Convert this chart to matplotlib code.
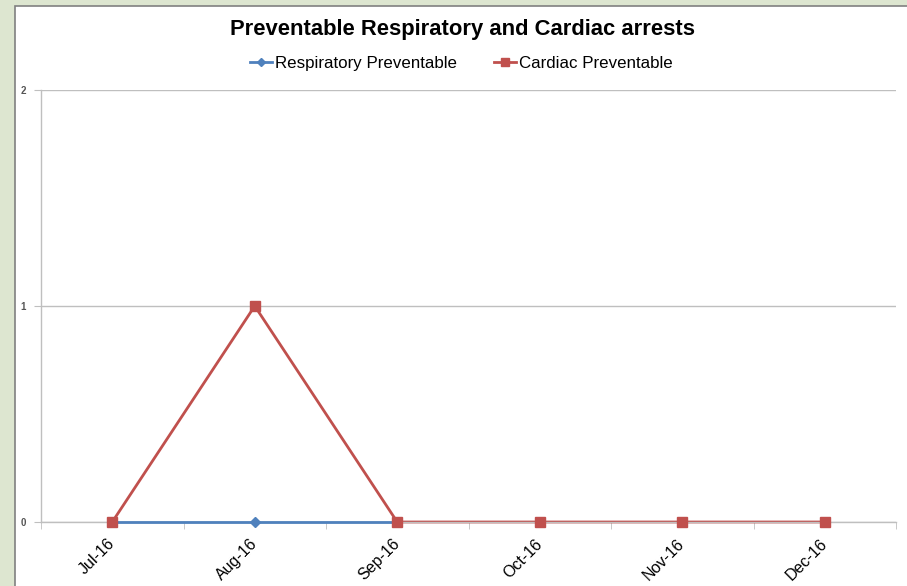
import numpy as np
import matplotlib.pyplot as plt
from matplotlib.patches import Rectangle
from matplotlib.lines import Line2D

# Chart data
months = ['Jul-16', 'Aug-16', 'Sep-16', 'Oct-16', 'Nov-16', 'Dec-16']
respiratory = [0, 0, 0, np.nan, np.nan, np.nan]
cardiac = [0, 1, 0, 0, 0, 0]
series_names = ['Respiratory Preventable', 'Cardiac Preventable']

BLUE = '#4F81BD'
RED = '#C0504D'

plt.rcParams['font.family'] = ['Liberation Sans', 'DejaVu Sans']

fig = plt.figure(figsize=(9.07, 5.86), dpi=100)
fig.patch.set_facecolor('#DDE6D0')

# white chart area with grey border
fig.patches.append(Rectangle((15 / 907, -0.01), 1.0, 1 - 6 / 586 + 0.01,
                             transform=fig.transFigure, facecolor='white',
                             edgecolor='#808080', linewidth=1.2, zorder=-1))

ax = fig.add_axes([41 / 907, 1 - 522 / 586, (896 - 41) / 907, (522 - 90) / 586])
ax.set_facecolor('none')

x = np.arange(len(months))
ax.plot(x, cardiac, color=RED, linewidth=2, zorder=2, clip_on=False)
ax.plot(x, respiratory, color=BLUE, linewidth=2, marker='D', markersize=5,
        zorder=3, clip_on=False)
ax.plot(x, cardiac, color=RED, linestyle='none', marker='s', markersize=7.5,
        zorder=4, clip_on=False)

ax.set_xlim(-0.5, len(months) - 0.5)
ax.set_ylim(0, 2)
ax.set_yticks([0, 1, 2])
ax.set_yticklabels(['0', '1', '2'], fontsize=7, color='#555555', fontweight='bold')
ax.set_xticks(x)
ax.set_xticklabels(months, rotation=45, ha='right', va='center',
                   rotation_mode='anchor', fontsize=11.5)
ax.set_xticks(np.arange(-0.5, len(months)), minor=True)
ax.tick_params(axis='x', which='major', length=0, pad=14)
ax.tick_params(axis='x', which='minor', length=5, color='#BFBFBF', direction='out')
ax.tick_params(axis='y', length=5, color='#BFBFBF', pad=6)

ax.grid(axis='y', color='#BFBFBF', linewidth=1)
ax.set_axisbelow(True)
for side in ['top', 'right']:
    ax.spines[side].set_visible(False)
for side in ['left', 'bottom']:
    ax.spines[side].set_color('#BFBFBF')
    ax.spines[side].set_linewidth(1)

# legend drawn as a row below the title
leg_y = 1 - 62 / 586
for x0, color, marker, ms, name in [(250, BLUE, 'D', 4, series_names[0]),
                                    (494, RED, 's', 5.5, series_names[1])]:
    fig.add_artist(Line2D([x0 / 907, (x0 + 22) / 907], [leg_y, leg_y], color=color,
                          linewidth=2, transform=fig.transFigure))
    fig.add_artist(Line2D([(x0 + 11) / 907], [leg_y], color=color, marker=marker,
                          markersize=ms, transform=fig.transFigure))
    fig.text((x0 + 25) / 907, leg_y, name, ha='left', va='center_baseline', fontsize=12.2)

fig.text(462 / 907, 1 - 29 / 586, 'Preventable Respiratory and Cardiac arrests',
         ha='center', va='center', fontsize=15.8, fontweight='bold')

fig.savefig('out.png', dpi=100)
